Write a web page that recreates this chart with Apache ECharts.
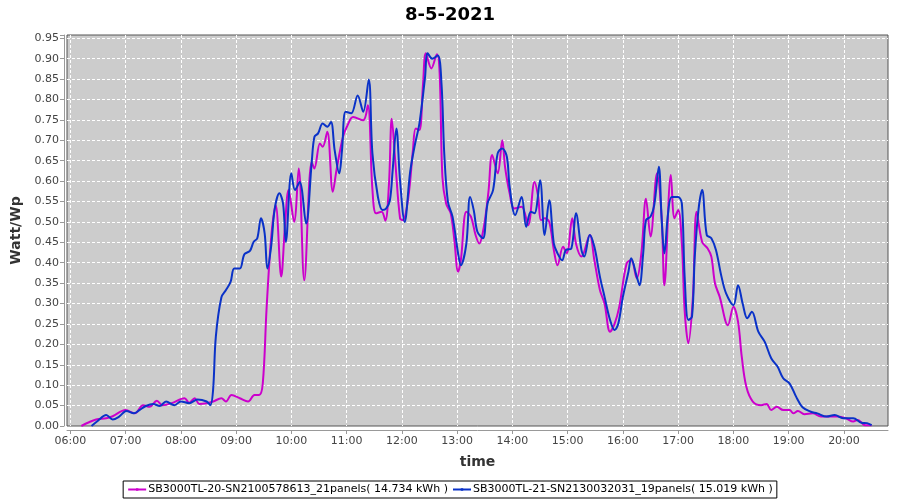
<!DOCTYPE html>
<html>
<head>
<meta charset="utf-8">
<script src="https://cdn.jsdelivr.net/npm/echarts@6/dist/echarts.min.js"></script>
<style>html,body{margin:0;padding:0;background:#fff}#c{width:900px;height:500px}</style>
</head>
<body>
<div id="c"></div>
<script>
const chartTitle = '8-5-2021';
const seriesNames = [
  'SB3000TL-20-SN2100578613_21panels( 14.734 kWh )',
  'SB3000TL-21-SN2130032031_19panels( 15.019 kWh )'
];
const yTicks = ['0.00','0.05','0.10','0.15','0.20','0.25','0.30','0.35','0.40','0.45','0.50','0.55','0.60','0.65','0.70','0.75','0.80','0.85','0.90','0.95'];

const magentaTimes = ['06:12','06:19','06:28','06:39','06:46','07:00','07:10','07:19','07:26','07:34','07:40','07:50','08:04','08:09','08:15','08:20','08:28','08:35','08:44','08:49','08:55','09:04','09:13','09:20','09:25','09:29','09:33','09:37','09:40','09:43','09:49','09:53','09:57','10:03','10:08','10:14','10:22','10:25','10:31','10:34','10:39','10:45','10:49','10:56','11:01','11:07','11:18','11:23','11:28','11:32','11:38','11:42','11:46','11:49','11:53','11:58','12:01','12:07','12:12','12:15','12:19','12:23','12:26','12:32','12:38','12:41','12:44','12:48','12:53','12:57','13:01','13:04','13:10','13:15','13:20','13:24','13:29','13:34','13:38','13:44','13:49','13:52','13:57','14:02','14:10','14:17','14:24','14:28','14:31','14:35','14:40','14:45','14:49','14:55','14:59','15:05','15:09','15:15','15:24','15:29','15:35','15:40','15:46','15:51','15:56','16:04','16:09','16:15','16:20','16:25','16:30','16:37','16:42','16:45','16:52','16:56','17:00','17:04','17:07','17:11','17:16','17:20','17:26','17:32','17:36','17:40','17:45','17:54','18:00','18:05','18:09','18:14','18:21','18:30','18:36','18:41','18:47','18:54','19:01','19:05','19:10','19:17','19:26','19:35','19:44','19:53','20:02','20:10','20:15','20:23','20:30'];
const magentaValues = [0.000,0.008,0.016,0.019,0.024,0.039,0.031,0.051,0.047,0.062,0.051,0.056,0.068,0.057,0.068,0.054,0.056,0.060,0.068,0.060,0.076,0.068,0.060,0.076,0.076,0.105,0.284,0.431,0.504,0.541,0.366,0.488,0.578,0.500,0.631,0.357,0.647,0.631,0.692,0.684,0.721,0.574,0.627,0.708,0.737,0.757,0.749,0.786,0.580,0.521,0.525,0.503,0.594,0.753,0.643,0.509,0.504,0.561,0.676,0.729,0.725,0.839,0.913,0.876,0.911,0.864,0.610,0.545,0.521,0.455,0.378,0.406,0.525,0.513,0.468,0.447,0.488,0.574,0.664,0.619,0.700,0.635,0.570,0.533,0.537,0.492,0.598,0.561,0.504,0.509,0.500,0.431,0.394,0.439,0.423,0.509,0.447,0.415,0.468,0.406,0.333,0.300,0.231,0.251,0.292,0.398,0.406,0.362,0.423,0.557,0.464,0.619,0.513,0.345,0.615,0.509,0.529,0.447,0.284,0.203,0.317,0.525,0.451,0.435,0.415,0.349,0.317,0.247,0.292,0.255,0.170,0.096,0.060,0.051,0.054,0.039,0.047,0.039,0.039,0.031,0.037,0.029,0.031,0.023,0.023,0.023,0.019,0.011,0.015,0.002,0.002];

const blueTimes = ['06:23','06:30','06:39','06:46','06:53','07:01','07:09','07:15','07:22','07:30','07:37','07:44','07:53','08:00','08:09','08:18','08:28','08:32','08:35','08:38','08:44','08:49','08:54','08:58','09:04','09:09','09:15','09:19','09:23','09:27','09:31','09:34','09:38','09:42','09:47','09:51','09:54','10:00','10:04','10:09','10:16','10:22','10:25','10:29','10:34','10:39','10:43','10:47','10:52','10:55','10:59','11:05','11:12','11:18','11:24','11:28','11:34','11:39','11:43','11:47','11:50','11:54','11:58','12:03','12:09','12:14','12:19','12:25','12:28','12:33','12:39','12:43','12:46','12:50','12:55','13:01','13:04','13:10','13:14','13:18','13:22','13:28','13:33','13:39','13:44','13:49','13:54','13:57','14:03','14:10','14:15','14:20','14:24','14:30','14:35','14:40','14:45','14:49','14:54','14:58','15:04','15:09','15:15','15:18','15:24','15:29','15:35','15:40','15:46','15:51','15:55','16:00','16:06','16:09','16:15','16:18','16:22','16:25','16:30','16:34','16:39','16:42','16:45','16:49','16:53','17:00','17:04','17:07','17:11','17:15','17:18','17:22','17:26','17:31','17:36','17:41','17:47','17:52','18:00','18:05','18:10','18:15','18:20','18:27','18:34','18:41','18:48','18:54','19:01','19:08','19:15','19:24','19:31','19:41','19:50','19:59','20:10','20:19','20:25','20:30'];
const blueValues = [0.000,0.013,0.027,0.016,0.023,0.037,0.031,0.039,0.049,0.054,0.049,0.060,0.051,0.060,0.056,0.065,0.060,0.051,0.088,0.219,0.315,0.333,0.353,0.386,0.386,0.421,0.429,0.451,0.460,0.509,0.472,0.386,0.439,0.533,0.570,0.545,0.451,0.619,0.578,0.598,0.496,0.643,0.708,0.717,0.741,0.733,0.745,0.676,0.619,0.676,0.770,0.766,0.810,0.770,0.849,0.668,0.561,0.529,0.533,0.553,0.627,0.729,0.602,0.500,0.623,0.688,0.741,0.851,0.913,0.900,0.908,0.839,0.668,0.549,0.513,0.423,0.394,0.447,0.561,0.529,0.476,0.460,0.545,0.578,0.668,0.680,0.659,0.586,0.517,0.561,0.488,0.525,0.521,0.602,0.468,0.553,0.447,0.423,0.406,0.431,0.435,0.521,0.431,0.415,0.468,0.439,0.366,0.317,0.260,0.235,0.251,0.317,0.378,0.411,0.366,0.345,0.423,0.504,0.513,0.541,0.635,0.509,0.423,0.521,0.561,0.561,0.545,0.366,0.260,0.268,0.415,0.529,0.578,0.468,0.460,0.431,0.366,0.325,0.296,0.345,0.300,0.264,0.280,0.231,0.206,0.166,0.145,0.117,0.104,0.072,0.046,0.035,0.031,0.023,0.027,0.019,0.019,0.008,0.007,0.002];

function ts(hhmm, sec) {
  const p = hhmm.split(':');
  return Date.UTC(2021, 4, 8, +p[0], +p[1], sec || 0);
}
function pairs(times, vals) { return times.map((t, i) => [ts(t), vals[i]]); }

const chart = echarts.init(document.getElementById('c'), null, {renderer: 'canvas'});
const FONT = 'DejaVu Sans';
chart.setOption({
  useUTC: true,
  animation: false,
  backgroundColor: '#ffffff',
  title: {
    text: chartTitle, left: 'center', top: 1,
    textStyle: {fontFamily: FONT, fontSize: 18, fontWeight: 'bold', color: '#000'}
  },
  grid: {
    left: 67, right: 12, top: 35, bottom: 74,
    show: true, backgroundColor: '#cccccc', borderColor: '#555555', borderWidth: 1
  },
  legend: {
    bottom: 2, left: 'center',
    borderColor: '#000', borderWidth: 1, padding: [3, 4], itemGap: 4,
    itemWidth: 18, itemHeight: 3,
    textStyle: {fontFamily: FONT, fontSize: 11, color: '#000', padding: [0, 0, 0, -3]},
    data: seriesNames
  },
  xAxis: {
    type: 'time',
    min: ts('05:56', 24), max: ts('20:47', 48),
    minInterval: 3600000, maxInterval: 3600000,
    name: 'time', nameLocation: 'middle', nameGap: 25,
    nameTextStyle: {fontFamily: FONT, fontSize: 14, fontWeight: 'bold', color: '#333'},
    axisLine: {show: true, onZero: false, lineStyle: {color: '#999'}},
    axisTick: {show: true, length: 4, lineStyle: {color: '#999'}},
    axisLabel: {fontFamily: FONT, fontSize: 11, color: '#444', formatter: '{HH}:{mm}', margin: 6, showMinLabel: false, showMaxLabel: false},
    splitLine: {show: true, showMinLine: false, showMaxLine: false, lineStyle: {color: '#ffffff', type: [3, 2], width: 1}},
    offset: 4
  },
  yAxis: {
    type: 'value', min: 0, max: 0.958, interval: 0.05,
    name: 'Watt/Wp', nameLocation: 'middle', nameGap: 40,
    nameTextStyle: {fontFamily: FONT, fontSize: 14, fontWeight: 'bold', color: '#333'},
    axisLine: {show: true, lineStyle: {color: '#999'}},
    axisTick: {show: true, length: 4, lineStyle: {color: '#999'}},
    axisLabel: {
      fontFamily: FONT, fontSize: 11, color: '#444', margin: 5,
      formatter: function (v) {
        const i = Math.round(v / 0.05);
        if (Math.abs(v - i * 0.05) > 1e-6 || i >= yTicks.length) return '';
        return yTicks[i];
      }
    },
    splitLine: {show: true, showMinLine: false, showMaxLine: false, lineStyle: {color: '#ffffff', type: [3, 2], width: 1}},
    offset: 3
  },
  series: [
    {
      name: seriesNames[0], type: 'line', smooth: 0.35, showSymbol: false, symbol: 'rect', symbolSize: 3,
      lineStyle: {color: '#cc00cc', width: 2}, itemStyle: {color: '#cc00cc'},
      data: pairs(magentaTimes, magentaValues)
    },
    {
      name: seriesNames[1], type: 'line', smooth: 0.35, showSymbol: false, symbol: 'rect', symbolSize: 3,
      lineStyle: {color: '#0a32c8', width: 2}, itemStyle: {color: '#0a32c8'},
      data: pairs(blueTimes, blueValues)
    }
  ]
});
</script>
</body>
</html>
